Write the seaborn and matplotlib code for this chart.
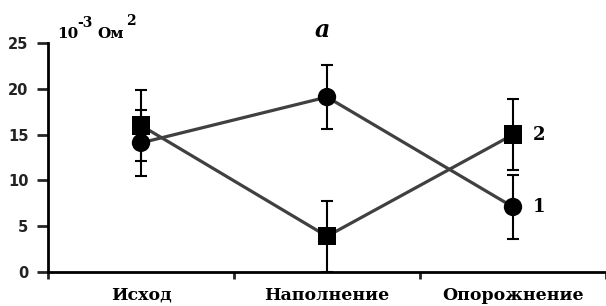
import matplotlib
matplotlib.use("Agg")
import matplotlib.pyplot as plt
import seaborn as sns
import pandas as pd

# Data
stages = ["Исход", "Наполнение", "Опорожнение"]
series1_mean = [14.1, 19.1, 7.1]   # circles, curve "1"
series1_err = [3.6, 3.5, 3.5]
series2_mean = [16.0, 3.9, 15.0]   # squares, curve "2"
series2_err = [3.9, 3.9, 3.9]

df = pd.DataFrame({
    "stage": stages * 2,
    "value": series1_mean + series2_mean,
    "err": series1_err + series2_err,
    "series": ["1"] * 3 + ["2"] * 3,
})
df["pos"] = df["stage"].map({s: i for i, s in enumerate(stages)})

sns.set_style("white")
plt.rcParams["font.family"] = ["DejaVu Sans"]

fig = plt.figure(figsize=(6.06, 3.06), dpi=100)
ax = fig.add_axes([48 / 606, 34 / 306, 558 / 606, 229 / 306])

# gray connecting lines
sns.lineplot(data=df, x="pos", y="value", units="series", estimator=None,
             color="#404040", lw=2.3, ax=ax, legend=False, zorder=2)

# error bars
for _, r in df.iterrows():
    ax.errorbar(r["pos"], r["value"], yerr=r["err"], fmt="none", ecolor="black",
                elinewidth=1.5, capsize=4, capthick=1.5, zorder=3)

# markers (squares first so the circles sit on top)
sns.scatterplot(data=df.iloc[::-1], x="pos", y="value", style="series",
                markers={"1": "o", "2": "s"}, color="black", s=175,
                edgecolor="black", linewidth=0, ax=ax, legend=False, zorder=4)

serif = dict(fontfamily="DejaVu Serif", fontweight="bold", color="black")

ax.set_xlim(-0.5, 2.5)
ax.set_ylim(0, 25)
ax.set_yticks([0, 5, 10, 15, 20, 25])
ax.set_yticklabels([0, 5, 10, 15, 20, 25], fontweight="bold", fontsize=10.5, color="#222222")
ax.set_xticks(range(len(stages)))
ax.set_xticklabels(stages, fontsize=12.5, **serif)
ax.set_xticks([-0.5, 0.5, 1.5, 2.5], minor=True)
ax.tick_params(axis="x", which="major", length=0, pad=10.5)
ax.tick_params(axis="x", which="minor", length=5, width=2, direction="out", bottom=True)
ax.tick_params(axis="y", length=8, width=2, direction="out", left=True, pad=6)
ax.set_xlabel("")
ax.set_ylabel("")

for side in ["top", "right"]:
    ax.spines[side].set_visible(False)
for side in ["left", "bottom"]:
    ax.spines[side].set_linewidth(2)
    ax.spines[side].set_color("black")

# curve labels next to the last points
ax.annotate("1", (2, series1_mean[2]), xytext=(14, 0), textcoords="offset points",
            va="center", ha="left", fontsize=13, **serif)
ax.annotate("2", (2, series2_mean[2]), xytext=(14, 0), textcoords="offset points",
            va="center", ha="left", fontsize=13, **serif)

# panel letter
fig.text(322 / 606, 1 - 37 / 306, "a", ha="center", va="baseline", fontsize=17,
         fontstyle="italic", **serif)

# units label
fig.text(57 / 606, 1 - 38 / 306, "10", ha="left", va="baseline", fontsize=11, **serif)
fig.text(77 / 606, 1 - 27 / 306, "-3", ha="left", va="baseline", fontsize=10, **serif)
fig.text(97 / 606, 1 - 38 / 306, "Ом", ha="left", va="baseline", fontsize=11, **serif)
fig.text(126 / 606, 1 - 25 / 306, "2", ha="left", va="baseline", fontsize=10, **serif)

fig.savefig("out.png", dpi=100)
